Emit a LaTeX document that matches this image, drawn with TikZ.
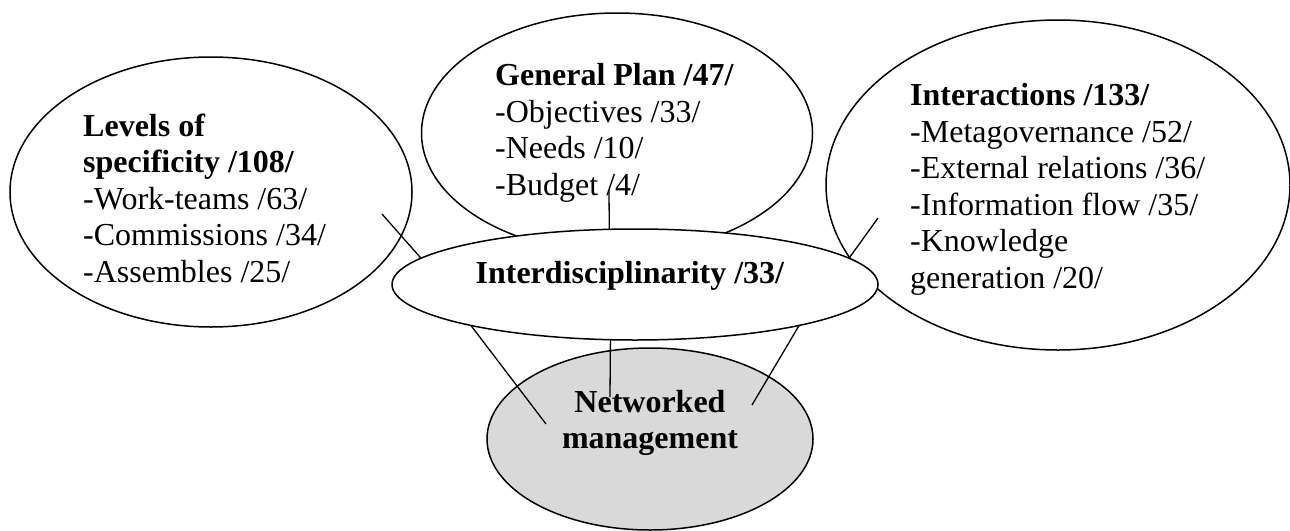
\documentclass[tikz,border=0pt]{standalone}
\usepackage{fontspec}
\setmainfont{Liberation Serif}
\usepackage{tikz}
\usepackage{xcolor}
\usetikzlibrary{shapes.geometric}
\definecolor{mgray}{HTML}{D9D9D9}

\begin{document}
\begin{tikzpicture}[x=1pt, y=-1pt,
                    bubble/.style={ellipse, draw, line width=1.5pt, fill=white, inner sep=0pt, outer sep=0pt},
                    txt/.style={align=left, anchor=base west, inner sep=0pt, font=\fontsize{32}{36.5}\selectfont},
                    link/.style={line width=1.3pt}]
                    \useasboundingbox (0,0) rectangle (1290,530);

                    \node[bubble, minimum width=402pt, minimum height=270pt] (levels) at (211,192) {};
                    \node[bubble, minimum width=391pt, minimum height=240pt] (plan) at (617,133) {};
                    \node[bubble, minimum width=464pt, minimum height=330pt] (interact) at (1058,185) {};
                    \node[bubble, minimum width=486pt, minimum height=111pt] (interdisc) at (635,284.5) {};
                    \node[bubble, fill=mgray, minimum width=326pt, minimum height=182pt] (netman) at (650,439) {};

                    % base anchor sits on the last line
                    \node[txt] (levels-txt) at (83,282) {\textbf{Levels of}\\\textbf{specificity /108/}\\-Work-teams /63/\\-Commissions /34/\\-Assembles /25/};
                    \node[txt] (plan-txt) at (495,195) {\textbf{General Plan /47/}\\-Objectives /33/\\-Needs /10/\\-Budget /4/};
                    \node[txt] (interact-txt) at (910,288) {\textbf{Interactions /133/}\\-Metagovernance /52/\\-External relations /36/\\-Information flow /35/\\-Knowledge\\generation /20/};
                    \node[txt, anchor=base, align=center] (interdisc-txt) at (630,283) {\textbf{Interdisciplinarity /33/}};
                    \node[txt, anchor=base, align=center, font=\fontsize{32}{36}\selectfont] (netman-txt) at (650,448) {\textbf{Networked}\\\textbf{management}};

                    \coordinate (levels-end) at (382,214);
                    \coordinate (plan-end) at (609,190);
                    \coordinate (interact-end) at (878,218);
                    \coordinate (netman-left) at (546,424);
                    \coordinate (netman-top) at (610,397);
                    \coordinate (netman-right) at (752,405);

                    \draw[link] (levels-end) -- (interdisc.173);
                    \draw[link] (plan-end) -- (interdisc.115);
                    \draw[link] (interact-end) -- (interdisc.7);
                    \draw[link] (interdisc.194) -- (netman-left);
                    \draw[link] (interdisc.246) -- (netman-top);
                    \draw[link] (interdisc.346) -- (netman-right);
                \end{tikzpicture}
\end{document}
